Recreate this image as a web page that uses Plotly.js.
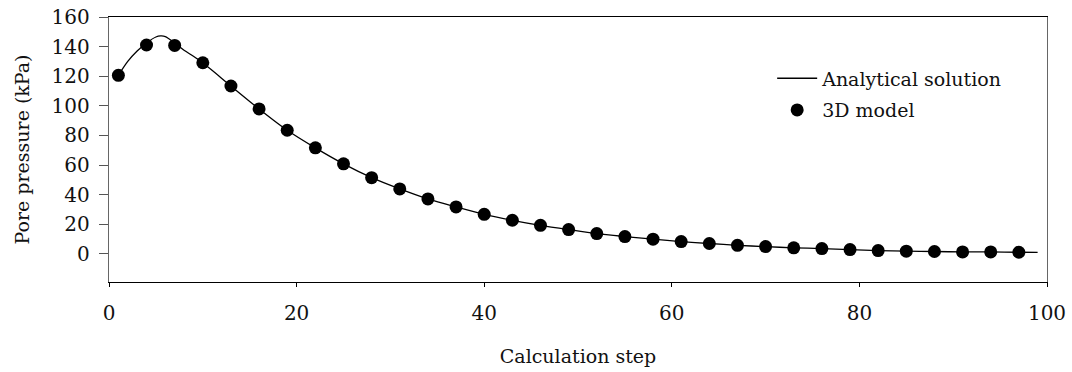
<!DOCTYPE html>
<html>
<head>
<meta charset="utf-8">
<script src="https://cdn.plot.ly/plotly-3.0.1.min.js"></script>
<style>html,body{margin:0;padding:0;background:#fff;}#chart{width:1072px;height:372px;}</style>
</head>
<body>
<div id="chart"></div>
<script>
// Analytical solution (line)
const lineSteps = [1, 2, 3, 4, 5, 5.5, 6, 7, 8, 9, 10, 13, 16, 19, 22, 25, 28, 31, 34, 37, 40, 43, 46, 49, 52, 55, 58, 61, 64, 67, 70, 73, 76, 79, 82, 85, 88, 91, 94, 97, 99];
const lineValues = [120.6, 130, 137, 142.5, 146.5, 147.2, 146.8, 142.5, 137.5, 133.5, 129.1, 113.4, 97.9, 83.5, 71.6, 60.8, 51.5, 43.9, 37.1, 31.7, 26.7, 22.7, 19.3, 16.4, 13.7, 11.7, 9.9, 8.3, 7.0, 5.8, 4.9, 4.1, 3.6, 2.9, 2.2, 1.8, 1.6, 1.3, 1.3, 1.1, 1.0];
// 3D model (points)
const modelSteps = [1, 4, 7, 10, 13, 16, 19, 22, 25, 28, 31, 34, 37, 40, 43, 46, 49, 52, 55, 58, 61, 64, 67, 70, 73, 76, 79, 82, 85, 88, 91, 94, 97];
const modelValues = [120.6, 141.1, 140.8, 129.1, 113.4, 97.9, 83.5, 71.6, 60.8, 51.5, 43.9, 37.1, 31.7, 26.7, 22.7, 19.3, 16.4, 13.7, 11.7, 9.9, 8.3, 7.0, 5.8, 4.9, 4.1, 3.6, 2.9, 2.2, 1.8, 1.6, 1.3, 1.3, 1.1];
const yTicks = [0, 20, 40, 60, 80, 100, 120, 140, 160];
const xTicks = [0, 20, 40, 60, 80, 100];
const seriesNames = ['Analytical solution', '3D model'];

const FONT = 'DejaVu Serif, Liberation Serif, serif';
const FS = 19;
const TFS = 20;

const traces = [
  {x: lineSteps, y: lineValues, type: 'scatter', mode: 'lines', name: seriesNames[0],
   line: {color: '#000', width: 1.3, shape: 'spline', smoothing: 0.8}, legendgroup: 'a'},
  {x: modelSteps, y: modelValues, type: 'scatter', mode: 'markers', name: seriesNames[1],
   marker: {color: '#000', size: 13}, legendgroup: 'b'}
];

const layout = {
  width: 1072, height: 372,
  margin: {l: 109, r: 25, t: 17, b: 90},
  paper_bgcolor: '#fff', plot_bgcolor: '#fff',
  font: {family: FONT, size: FS, color: '#111'},
  showlegend: true,
  legend: {x: 0.707, y: 0.708, xanchor: 'left', yanchor: 'middle', bgcolor: 'rgba(0,0,0,0)',
           font: {family: FONT, size: FS, color: '#111'}, tracegroupgap: 4, itemwidth: 40},
  xaxis: {
    range: [0, 100], tickvals: xTicks, ticktext: xTicks.map(String),
    showgrid: false, zeroline: false,
    showline: true, linecolor: '#000', linewidth: 1.3, mirror: true,
    ticks: 'outside', ticklen: 4, tickcolor: '#000', tickwidth: 1,
    ticklabelstandoff: 9, tickfont: {family: FONT, size: TFS, color: '#111'},
    title: {text: 'Calculation step', font: {family: FONT, size: FS, color: '#111'}, standoff: 25}
  },
  yaxis: {
    range: [-19, 160], tickvals: yTicks, ticktext: yTicks.map(String),
    showgrid: false, zeroline: false,
    showline: true, linecolor: '#666', linewidth: 1.3, mirror: true,
    ticks: 'outside', ticklen: 9, tickcolor: '#555', tickwidth: 1,
    ticklabelstandoff: 5, tickfont: {family: FONT, size: TFS, color: '#111'},
    title: {text: 'Pore pressure (kPa)', font: {family: FONT, size: FS, color: '#111'}, standoff: 17}
  }
};

Plotly.newPlot('chart', traces, layout, {displayModeBar: false, staticPlot: true});
</script>
</body>
</html>
